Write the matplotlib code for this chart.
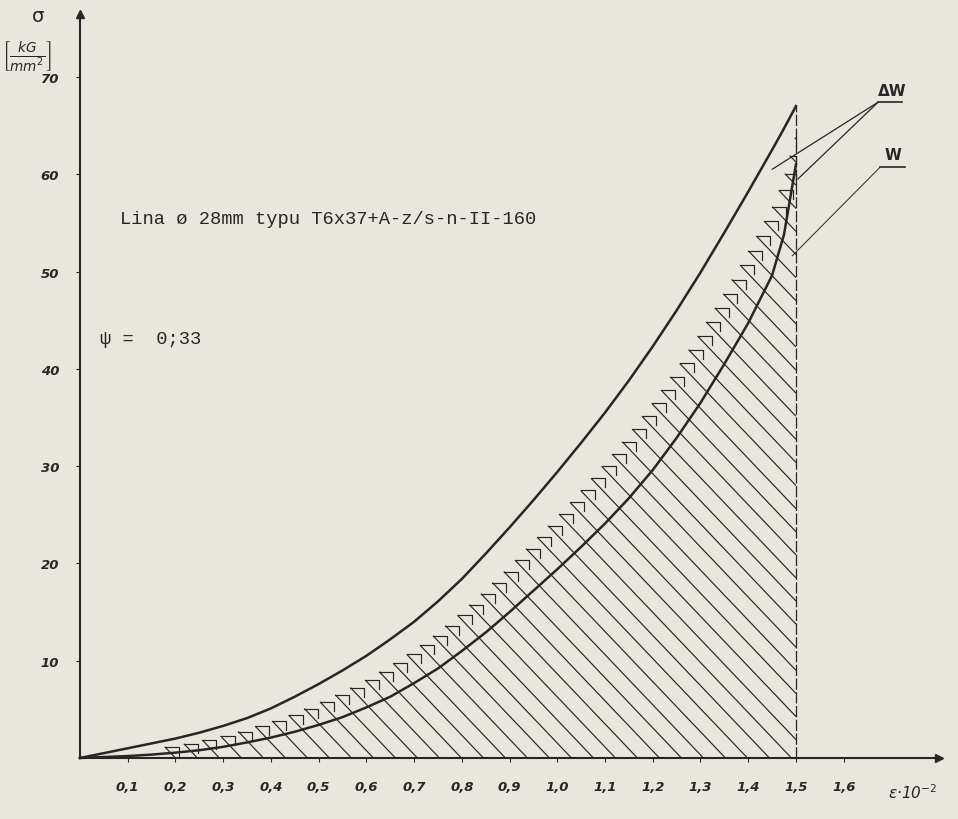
"""
Stress-strain chart for rope 28 mm: total work (dW) and elastic work (W) curves,
with the hatched area under W and the comb-hatched dW band above it.
"""
import numpy as np
import matplotlib
matplotlib.use("Agg")
import matplotlib.pyplot as plt

# ---------------------------------------------------------------------------
# Data  (strain e*10^-2, stress sigma [kG/mm^2])
# ---------------------------------------------------------------------------
strain = [0.00, 0.05, 0.10, 0.15, 0.20, 0.25, 0.30, 0.35, 0.40, 0.45, 0.50,
          0.55, 0.60, 0.65, 0.70, 0.75, 0.80, 0.85, 0.90, 0.95, 1.00,
          1.05, 1.10, 1.15, 1.20, 1.25, 1.30, 1.35, 1.40, 1.45, 1.475, 1.50]
sigma_total = [0.0, 0.5, 1.0, 1.5, 2.0, 2.6, 3.3, 4.1, 5.1, 6.3, 7.6,
               9.0, 10.5, 12.2, 14.0, 16.1, 18.4, 21.0, 23.7, 26.5, 29.4,
               32.4, 35.5, 38.8, 42.3, 46.0, 49.9, 54.0, 58.2, 62.5, 64.7, 67.0]
sigma_w = [0.0, 0.1, 0.2, 0.35, 0.55, 0.8, 1.15, 1.6, 2.1, 2.7, 3.4,
           4.2, 5.2, 6.3, 7.7, 9.2, 11.0, 12.9, 15.0, 17.2, 19.4,
           21.7, 24.1, 26.7, 29.6, 32.9, 36.5, 40.5, 44.7, 49.6, 53.8, 61.0]
strain_end = 1.5

x_ticks = [0.1, 0.2, 0.3, 0.4, 0.5, 0.6, 0.7, 0.8, 0.9, 1.0, 1.1, 1.2, 1.3, 1.4, 1.5, 1.6]
x_tick_labels = ["0,1", "0,2", "0,3", "0,4", "0,5", "0,6", "0,7", "0,8", "0,9",
                 "1,0", "1,1", "1,2", "1,3", "1,4", "1,5", "1,6"]
y_ticks = [10, 20, 30, 40, 50, 60, 70]
y_tick_labels = ["10", "20", "30", "40", "50", "60", "70"]

# ---------------------------------------------------------------------------
# Layout (pixel mapping of the scanned sheet)
# ---------------------------------------------------------------------------
W_PX, H_PX = 958, 820
X0_PX, Y0_PX = 80, 759          # origin
PX_PER_X = 477.3                # px per unit strain
PX_PER_Y = 9.73                 # px per kG/mm2
HATCH_SHARE = 0.55              # comb edge between W and the upper curve
HATCH_STEP_PX = 22
HATCH_K = 1.05                  # hatch slope in px (down per right)
HATCH_START = 0.20
TAB_W_PX, TAB_H_PX = 14, 9

INK = "#262626"
PAPER = "#e8e6dd"

fig = plt.figure(figsize=(W_PX / 100, H_PX / 100), dpi=100, facecolor=PAPER)
ax = fig.add_axes([0, 0, 1, 1])
ax.set_facecolor(PAPER)
ax.set_xlim(-X0_PX / PX_PER_X, (W_PX - X0_PX) / PX_PER_X)
ax.set_ylim((Y0_PX - H_PX) / PX_PER_Y, Y0_PX / PX_PER_Y)

# ── hatching under the comb edge ───────────────────────────────────────────
xs = np.linspace(0, strain_end, 3001)
w_i = np.interp(xs, strain, sigma_w)
t_i = np.interp(xs, strain, sigma_total)
edge = w_i + HATCH_SHARE * (t_i - w_i)
slope = HATCH_K * PX_PER_X / PX_PER_Y
step = HATCH_STEP_PX / PX_PER_X

x0 = HATCH_START
while True:
    line = (x0 - xs) * slope
    below = np.nonzero(line - edge < 0)[0]
    if len(below) == 0:
        break
    xc = xs[below[0]]
    yc = (x0 - xc) * slope
    if x0 <= strain_end:
        xb, yb = x0, 0.0
    else:
        xb, yb = strain_end, (x0 - strain_end) * slope
    ax.plot([xc, xb], [yc, yb], color=INK, lw=0.85, solid_capstyle="butt")
    xr = min(xc + TAB_W_PX / PX_PER_X, strain_end)
    ax.plot([xc, xr, xr], [yc, yc, max(yc - TAB_H_PX / PX_PER_Y, 0)],
            color=INK, lw=0.85)
    x0 += step

# ── curves ─────────────────────────────────────────────────────────────────
ax.plot(strain, sigma_total, color=INK, lw=1.8)
ax.plot(strain, sigma_w, color=INK, lw=1.8)
ax.plot([strain_end, strain_end], [0, sigma_total[-1]], color=INK, lw=0.9,
        ls=(0, (9, 2)))

# ── axes ───────────────────────────────────────────────────────────────────
for s in ["top", "right"]:
    ax.spines[s].set_visible(False)
ax.spines["left"].set_position(("data", 0))
ax.spines["bottom"].set_position(("data", 0))
ax.spines["left"].set_bounds(0, 76.5)
ax.spines["bottom"].set_bounds(0, 1.80)
ax.spines["left"].set_linewidth(1.5)
ax.spines["bottom"].set_linewidth(1.5)
ax.spines["left"].set_color(INK)
ax.spines["bottom"].set_color(INK)
ax.plot(0, 76.5, marker="^", ms=6, color=INK, clip_on=False)
ax.plot(1.80, 0, marker=">", ms=6, color=INK, clip_on=False)

tick_font = dict(family="DejaVu Sans", style="italic", weight="bold", size=9.5)
ax.set_xticks(x_ticks)
ax.set_xticklabels(x_tick_labels, **tick_font)
ax.set_yticks(y_ticks)
ax.set_yticklabels(y_tick_labels, **tick_font)
ax.tick_params(axis="x", length=3, width=0.8, pad=13, colors=INK)
ax.tick_params(axis="y", length=3, width=0.8, pad=12, colors=INK)

ax.text(1.745, -3.5, r"ε·10$^{-2}$", ha="center", va="center",
        fontsize=11, style="italic", color=INK)
ax.text(-0.088, 76.3, "σ", ha="center", va="center", fontsize=14, color=INK)
ax.text(-0.112, 72.2, r"$\left[\frac{kG}{mm^2}\right]$", ha="center",
        va="center", fontsize=14, color=INK)

# ── texts ──────────────────────────────────────────────────────────────────
ax.text(0.084, 55.4, "Lina ø 28mm typu T6x37+A-z/s-n-II-160", ha="left",
        va="center", fontsize=13.5, family=["Liberation Mono", "DejaVu Sans Mono"],
        color=INK)
ax.text(0.042, 43.1, "ψ =  0;33", ha="left", va="center", fontsize=13.5,
        family=["Liberation Mono", "DejaVu Sans Mono"], color=INK)

# ── leaders ΔW / W ─────────────────────────────────────────────────────────
lead = dict(arrowstyle="-", color=INK, lw=0.9, shrinkA=0, shrinkB=0)
ax.annotate("", xy=(1.450, 60.5), xytext=(1.672, 67.4), arrowprops=lead)
ax.annotate("", xy=(1.504, 59.5), xytext=(1.672, 67.4), arrowprops=lead)
ax.annotate("", xy=(1.492, 51.6), xytext=(1.676, 60.7), arrowprops=dict(lead, lw=0.7))
ax.text(1.701, 68.6, "ΔW", ha="center", va="center", fontsize=11,
        weight="bold", color=INK)
ax.plot([1.672, 1.722], [67.4, 67.4], color=INK, lw=1.2)
ax.text(1.703, 62.0, "W", ha="center", va="center", fontsize=11,
        weight="bold", color=INK)
ax.plot([1.676, 1.728], [60.7, 60.7], color=INK, lw=1.2)

fig.savefig("out.png", dpi=100, facecolor=PAPER)
